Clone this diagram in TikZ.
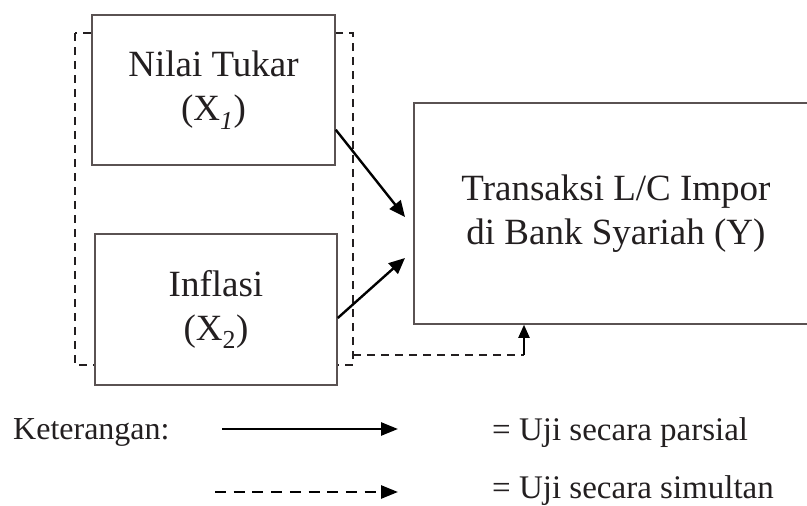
\documentclass[tikz,border=0pt]{standalone}
\usepackage{fontspec}
\setmainfont{Liberation Serif}
\usetikzlibrary{arrows.meta,calc}
\definecolor{ink}{HTML}{231F20}
\definecolor{boxline}{HTML}{5A5252}
\tikzset{
  box/.style={draw=boxline, line width=1.5pt, fill=white, align=center, text=ink,
    font=\fontsize{37}{44}\selectfont, inner sep=0pt},
  dashline/.style={draw=ink, line width=1.4pt, dash pattern=on 8pt off 6pt},
  arr/.style={draw=black, line width=2.4pt, -{Triangle[length=16pt,width=14pt]}},
  legarr/.style={draw=black, line width=2.6pt, -{Triangle[length=17pt,width=13pt]}},
  legdash/.style={draw=black, line width=2.6pt, dash pattern=on 11pt off 7.7pt},
  legtext/.style={text=ink, font=\fontsize{33}{40}\selectfont, inner sep=0pt, anchor=base west}
}
\begin{document}
\begin{tikzpicture}[x=1pt,y=-1pt]
\useasboundingbox (0,0) rectangle (807,506);
% simultaneous frame
\draw[dashline] (75,33) rectangle (353,365);
% boxes
\node[box, minimum width=243pt, minimum height=150pt] (x1) at (213.5,90)
  {Nilai Tukar\\(X\textsubscript{\textit{1}})};
\node[box, minimum width=242pt, minimum height=151pt] (x2) at (216,309.5)
  {\raisebox{4pt}{Inflasi}\\\raisebox{4pt}{(X\textsubscript{2})}};
\node[box, minimum width=404pt, minimum height=221pt] (y) at (616,213.5)
  {Transaksi L/C Impor\\di Bank Syariah (Y)};
% partial arrows
\coordinate (t1) at (405,217);
\coordinate (t2) at (405,258);
\draw[arr] (x1.-18) -- (t1);
\draw[arr] (x2.-4) -- (t2);
% simultaneous connector
\coordinate (s) at (353,355);
\coordinate (c) at (524,355);
\draw[dashline] (s) -- (c);
\draw[draw=black, line width=2pt, -{Triangle[length=13pt,width=11pt]}] (c) -- (c |- y.south);
% legend
\node[legtext, font=\fontsize{32}{38}\selectfont] (ket) at (13,439) {Keterangan:};
\coordinate (l1s) at (222,429);
\coordinate (l1e) at (398,429);
\draw[legarr] (l1s) -- (l1e);
\coordinate (l2s) at (215,492);
\coordinate (l2m) at (382,492);
\coordinate (l2e) at (398,492);
\draw[legdash] (l2s) -- (l2m);
\draw[legarr] (l2m) -- (l2e);
\node[legtext] (p) at (492,440) {= Uji secara parsial};
\node[legtext] (s2) at (492,498) {= Uji secara simultan};
\end{tikzpicture}
\end{document}
